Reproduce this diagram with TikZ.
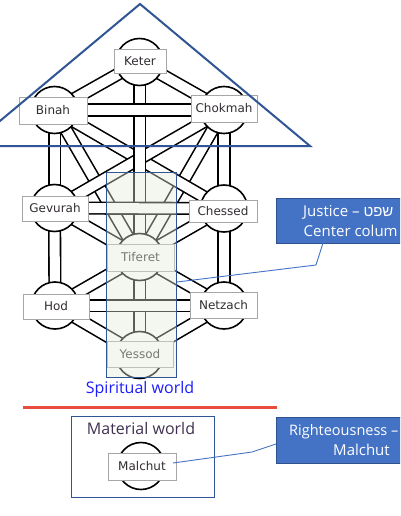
\documentclass[tikz,border=0pt]{standalone}
\usepackage{fontspec}
\newfontfamily\labfont{DejaVu Sans}
\newfontfamily\calfont{Open Sans}
\newfontfamily\hebfont[Script=Hebrew]{Liberation Sans}
\TeXXeTstate=1
\definecolor{triblue}{RGB}{47,85,151}
\definecolor{calfill}{RGB}{68,114,196}
\definecolor{calborder}{RGB}{47,82,143}
\definecolor{ovfill}{RGB}{225,235,215}
\definecolor{spirblue}{RGB}{30,30,250}
\definecolor{redline}{RGB}{232,76,61}
\definecolor{matcol}{RGB}{64,49,81}
\definecolor{boxgray}{RGB}{166,166,166}
\definecolor{labtext}{RGB}{50,45,50}
\begin{document}
\begin{tikzpicture}[x=1pt,y=-1pt,
  channel/.style={draw=black, line width=1.6pt, double=white, double distance=10pt},
  sephira/.style={circle, draw=black, line width=1.6pt, fill=white, minimum size=47pt, inner sep=0pt},
  sephlabel/.style={rectangle, draw=boxgray, line width=0.9pt, fill=white, minimum width=66pt, minimum height=26pt, inner sep=0pt, font=\labfont\fontsize{12}{14}\selectfont, text=labtext},
  callout/.style={rectangle, draw=calborder, line width=0.8pt, fill=calfill, inner sep=0pt, anchor=north west},
  calltext/.style={anchor=base west, inner sep=0pt, text=white, font=\calfont\fontsize{15}{18}\selectfont},
  pointer/.style={draw=calfill, line width=0.9pt},
  worldtext/.style={anchor=base, inner sep=0pt, font=\calfont\fontsize{16}{19}\selectfont}
]
\useasboundingbox (0,0) rectangle (400,516);
\clip (0,0) rectangle (400,516);
\fill[white] (0,0) rectangle (400,516);

% centres of the sephirot
\coordinate (pK) at (139.5,62);
\coordinate (pB) at (54.5,110);
\coordinate (pC) at (224,110);
\coordinate (pG) at (54.5,208);
\coordinate (pCh) at (224,208.5);
\coordinate (pT) at (139.5,257);
\coordinate (pH) at (55,305.5);
\coordinate (pN) at (224,305.5);
\coordinate (pY) at (139.5,355);
\coordinate (pM) at (141,466);

% channels, back to front
\draw[channel] (pK) -- (pB);
\draw[channel] (pK) -- (pC);
\draw[channel] (pB) -- (pT);
\draw[channel] (pC) -- (pT);
\draw[channel] (pB) -- (pCh);
\draw[channel] (pC) -- (pG);
\draw[channel] (pG) -- (pT);
\draw[channel] (pCh) -- (pT);
\draw[channel] (pT) -- (pH);
\draw[channel] (pT) -- (pN);
\draw[channel] (pH) -- (pY);
\draw[channel] (pN) -- (pY);
\draw[channel] (pB) -- (pG);
\draw[channel] (pC) -- (pCh);
\draw[channel] (pG) -- (pH);
\draw[channel] (pCh) -- (pN);
\draw[channel] (pK) -- (pT);
\draw[channel] (pT) -- (pY);
\draw[channel] (pB) -- (pC);
\draw[channel] (pG) -- (pCh);
\draw[channel] (pH) -- (pN);

% circles
\node[sephira] (cK) at (pK) {};
\node[sephira] (cB) at (pB) {};
\node[sephira] (cC) at (pC) {};
\node[sephira] (cG) at (pG) {};
\node[sephira] (cCh) at (pCh) {};
\node[sephira] (cT) at (pT) {};
\node[sephira] (cH) at (pH) {};
\node[sephira] (cN) at (pN) {};
\node[sephira] (cY) at (pY) {};

% labels
\node[sephlabel, minimum width=52pt, minimum height=24pt] (K) at (140,61) {Keter};
\node[sephlabel, minimum width=68pt, minimum height=27pt] (B) at (53,110.5) {Binah};
\node[sephlabel, minimum height=27pt] (C) at (224,108.5) {Chokmah};
\node[sephlabel, minimum height=25pt] (G) at (55,208.5) {Gevurah};
\node[sephlabel, minimum width=68pt, minimum height=22pt] (Ch) at (223,211.5) {Chessed};
\node[sephlabel, minimum width=67pt, minimum height=27pt] (T) at (140.5,257.5) {Tiferet};
\node[sephlabel, minimum height=25pt] (H) at (56,306.5) {Hod};
\node[sephlabel, minimum width=67pt] (N) at (223.5,305) {Netzach};
\node[sephlabel] (Y) at (140,354) {Yessod};

% centre column overlay
\node[draw=triblue, line width=0.8pt, fill=ovfill, fill opacity=0.4, minimum width=70pt, minimum height=205pt, inner sep=0pt] (column) at (141.5,274.5) {};

% worlds
\node[worldtext, text=spirblue] (spirit) at (140,393) {Spiritual world};
\draw[redline, line width=3pt] (23,407) -- (277,407);
\node[draw=triblue, line width=1pt, minimum width=143pt, minimum height=81pt, inner sep=0pt] (matbox) at (142.5,456.5) {};
\node[worldtext, text=matcol] (mattext) at (141,434) {Material world};
\node[sephira] (cM) at (pM) {};
\node[sephlabel, minimum width=68pt, minimum height=27pt] (M) at (142,466.5) {Malchut};

% callouts
\node[callout, minimum width=140pt, minimum height=45pt] (just) at (276,198) {};
\node[calltext] (just1) at (303,216) {Justice – {\hebfont\beginR שפט\endR}};
\node[calltext] (just2) at (303.5,236.5) {Center colum};
\coordinate (jstart) at (323,243);
\coordinate (jbend) at (316,265);
\coordinate (jend) at (177,282);
\draw[pointer] (jstart) -- (jbend) -- (jend);

\node[callout, minimum width=140pt, minimum height=46pt] (right) at (276,417) {};
\node[calltext, font=\calfont\fontsize{14.5}{18}\selectfont] (right1) at (289,435) {Righteousness –};
\node[calltext] (right2) at (333,455) {Malchut};
\coordinate (rstart) at (276,444);
\coordinate (rbend) at (252,452);
\coordinate (rend) at (173,463);
\draw[pointer] (rstart) -- (rbend) -- (rend);

% triangle of the upper world
\draw[triblue, line width=2pt, line join=miter] (140,4) -- (310,146) -- (-30,146) -- cycle;
\end{tikzpicture}
\end{document}
